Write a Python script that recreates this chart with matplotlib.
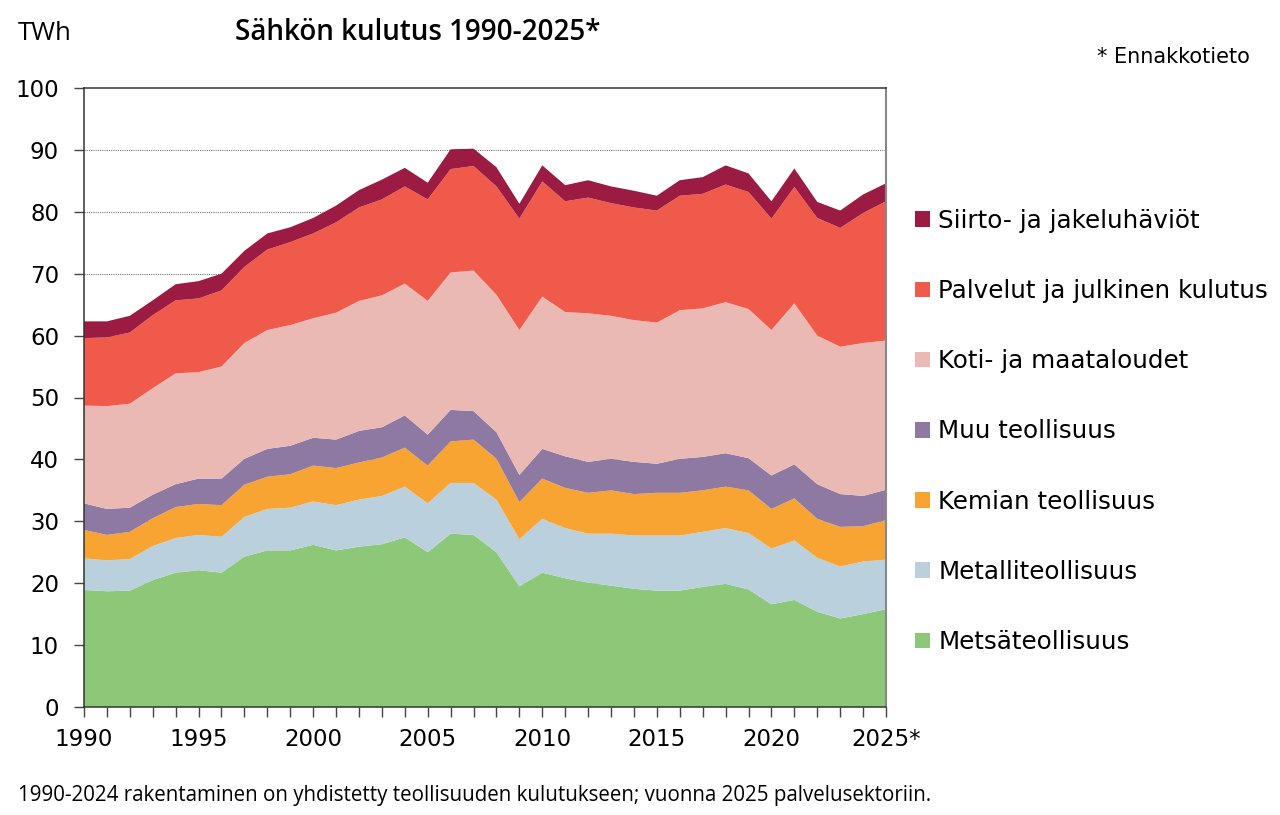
import matplotlib
matplotlib.use("Agg")
import matplotlib.pyplot as plt
import numpy as np
from matplotlib.patches import Patch

# vuodet
years = list(range(1990, 2026))

# TWh, luettu kuvasta
metsa = [18.9, 18.7, 18.8, 20.5, 21.7, 22.1, 21.7, 24.3, 25.3, 25.3, 26.2, 25.3,
         25.9, 26.3, 27.4, 25.0, 28.0, 27.8, 25.0, 19.5, 21.7, 20.8, 20.1, 19.6,
         19.1, 18.8, 18.8, 19.4, 19.9, 19.0, 16.6, 17.3, 15.4, 14.3, 15.0, 15.8]
metalli = [5.1, 5.0, 5.1, 5.5, 5.6, 5.7, 5.8, 6.4, 6.7, 6.9, 7.0, 7.3,
           7.6, 7.8, 8.2, 7.9, 8.2, 8.4, 8.5, 7.6, 8.7, 8.1, 7.9, 8.4,
           8.6, 8.9, 8.9, 8.9, 9.0, 9.1, 9.0, 9.6, 8.7, 8.4, 8.5, 8.0]
kemia = [4.6, 4.1, 4.4, 4.5, 5.0, 5.0, 5.1, 5.2, 5.2, 5.4, 5.8, 6.0,
         6.0, 6.2, 6.3, 6.1, 6.7, 7.0, 6.6, 6.0, 6.5, 6.5, 6.6, 7.0,
         6.7, 6.9, 6.9, 6.7, 6.7, 6.9, 6.4, 6.8, 6.3, 6.4, 5.7, 6.4]
muu = [4.3, 4.2, 3.9, 3.8, 3.7, 4.1, 4.3, 4.2, 4.5, 4.6, 4.5, 4.6,
       5.1, 4.9, 5.2, 5.0, 5.1, 4.6, 4.3, 4.4, 4.8, 5.1, 5.0, 5.1,
       5.2, 4.7, 5.5, 5.4, 5.4, 5.2, 5.4, 5.5, 5.6, 5.3, 4.9, 4.9]
koti = [15.8, 16.6, 16.8, 17.2, 17.9, 17.2, 18.1, 18.7, 19.2, 19.5, 19.3, 20.5,
        21.0, 21.3, 21.3, 21.6, 22.2, 22.7, 22.2, 23.4, 24.6, 23.3, 24.0, 23.1,
        22.9, 22.8, 24.0, 24.0, 24.4, 24.1, 23.5, 26.0, 24.0, 23.8, 24.7, 24.1]
palvelut = [10.9, 11.1, 11.5, 11.8, 11.8, 11.9, 12.3, 12.3, 13.0, 13.4, 13.7, 14.6,
            15.1, 15.5, 15.7, 16.4, 16.7, 16.9, 17.5, 18.0, 18.6, 17.9, 18.7, 18.2,
            18.2, 18.1, 18.5, 18.5, 19.0, 18.9, 18.0, 18.8, 19.0, 19.2, 21.0, 22.5]
haviot = [2.7, 2.6, 2.7, 2.4, 2.6, 2.8, 2.7, 2.6, 2.6, 2.4, 2.5, 2.7,
          2.8, 3.2, 3.0, 2.7, 3.2, 2.8, 3.1, 2.4, 2.6, 2.6, 2.8, 2.7,
          2.7, 2.4, 2.5, 2.7, 3.1, 3.0, 2.8, 3.0, 2.6, 2.8, 3.0, 2.9]

labels = ['Metsäteollisuus', 'Metalliteollisuus', 'Kemian teollisuus', 'Muu teollisuus',
          'Koti- ja maataloudet', 'Palvelut ja julkinen kulutus', 'Siirto- ja jakeluhäviöt']
colors = ['#8DC878', '#BBD0DD', '#F8A432', '#8E79A3', '#EBB9B4', '#F05A4A', '#9B1B42']

xtick_years = [1990, 1995, 2000, 2005, 2010, 2015, 2020, 2025]
xtick_labels = ['1990', '1995', '2000', '2005', '2010', '2015', '2020', '2025*']

fig = plt.figure(figsize=(12.8, 8.15), dpi=100)
ax = fig.add_axes([84 / 1280, 1 - 707 / 815, (886 - 84) / 1280, (707 - 88) / 815])

ax.stackplot(years, metsa, metalli, kemia, muu, koti, palvelut, haviot,
             colors=colors, linewidth=0, zorder=2)

ax.set_xlim(1990, 2025)
ax.set_ylim(0, 100)

# katkoviivaiset apuviivat
for v in range(10, 100, 10):
    ax.axhline(v, color='#777777', linestyle=(0, (1, 1)), linewidth=0.8, zorder=1)

ax.set_yticks(range(0, 101, 10))
ax.set_xticks(xtick_years)
ax.set_xticklabels(xtick_labels)
ax.set_xticks(years, minor=True)
ax.tick_params(axis='both', which='both', direction='out', length=7, width=1,
               color='#444444', labelsize=16.5)
ax.tick_params(axis='y', pad=11)
ax.tick_params(axis='x', pad=8)

for s in ['left', 'bottom', 'top']:
    ax.spines[s].set_color('#333333')
    ax.spines[s].set_linewidth(1.1)
ax.spines['right'].set_color('#888888')
ax.spines['right'].set_linewidth(1.5)

# selite
handles = [Patch(facecolor=c, edgecolor='none') for c in colors][::-1]
fig.legend(handles, labels[::-1], loc='upper left', bbox_to_anchor=(905 / 1280, 1 - 199 / 815),
           frameon=False, fontsize=17.7, handlelength=0.6, handleheight=0.6,
           handletextpad=0.35, labelspacing=1.88, borderaxespad=0)

fig.text(18 / 1280, 1 - 33 / 815, 'TWh', fontsize=18.5, family='Open Sans', va='center')
fig.text(235 / 1280, 1 - 33 / 815, 'Sähkön kulutus 1990-2025*', fontsize=20,
         family='Open Sans', weight='semibold', va='center')
fig.text(1250 / 1280, 1 - 57 / 815, '* Ennakkotieto', fontsize=15, ha='right', va='center')
fig.text(18 / 1280, 1 - 795 / 815,
         '1990-2024 rakentaminen on yhdistetty teollisuuden kulutukseen; vuonna 2025 palvelusektoriin.',
         fontsize=14.8, family='Open Sans', va='center')

fig.savefig('out.png', dpi=100)
